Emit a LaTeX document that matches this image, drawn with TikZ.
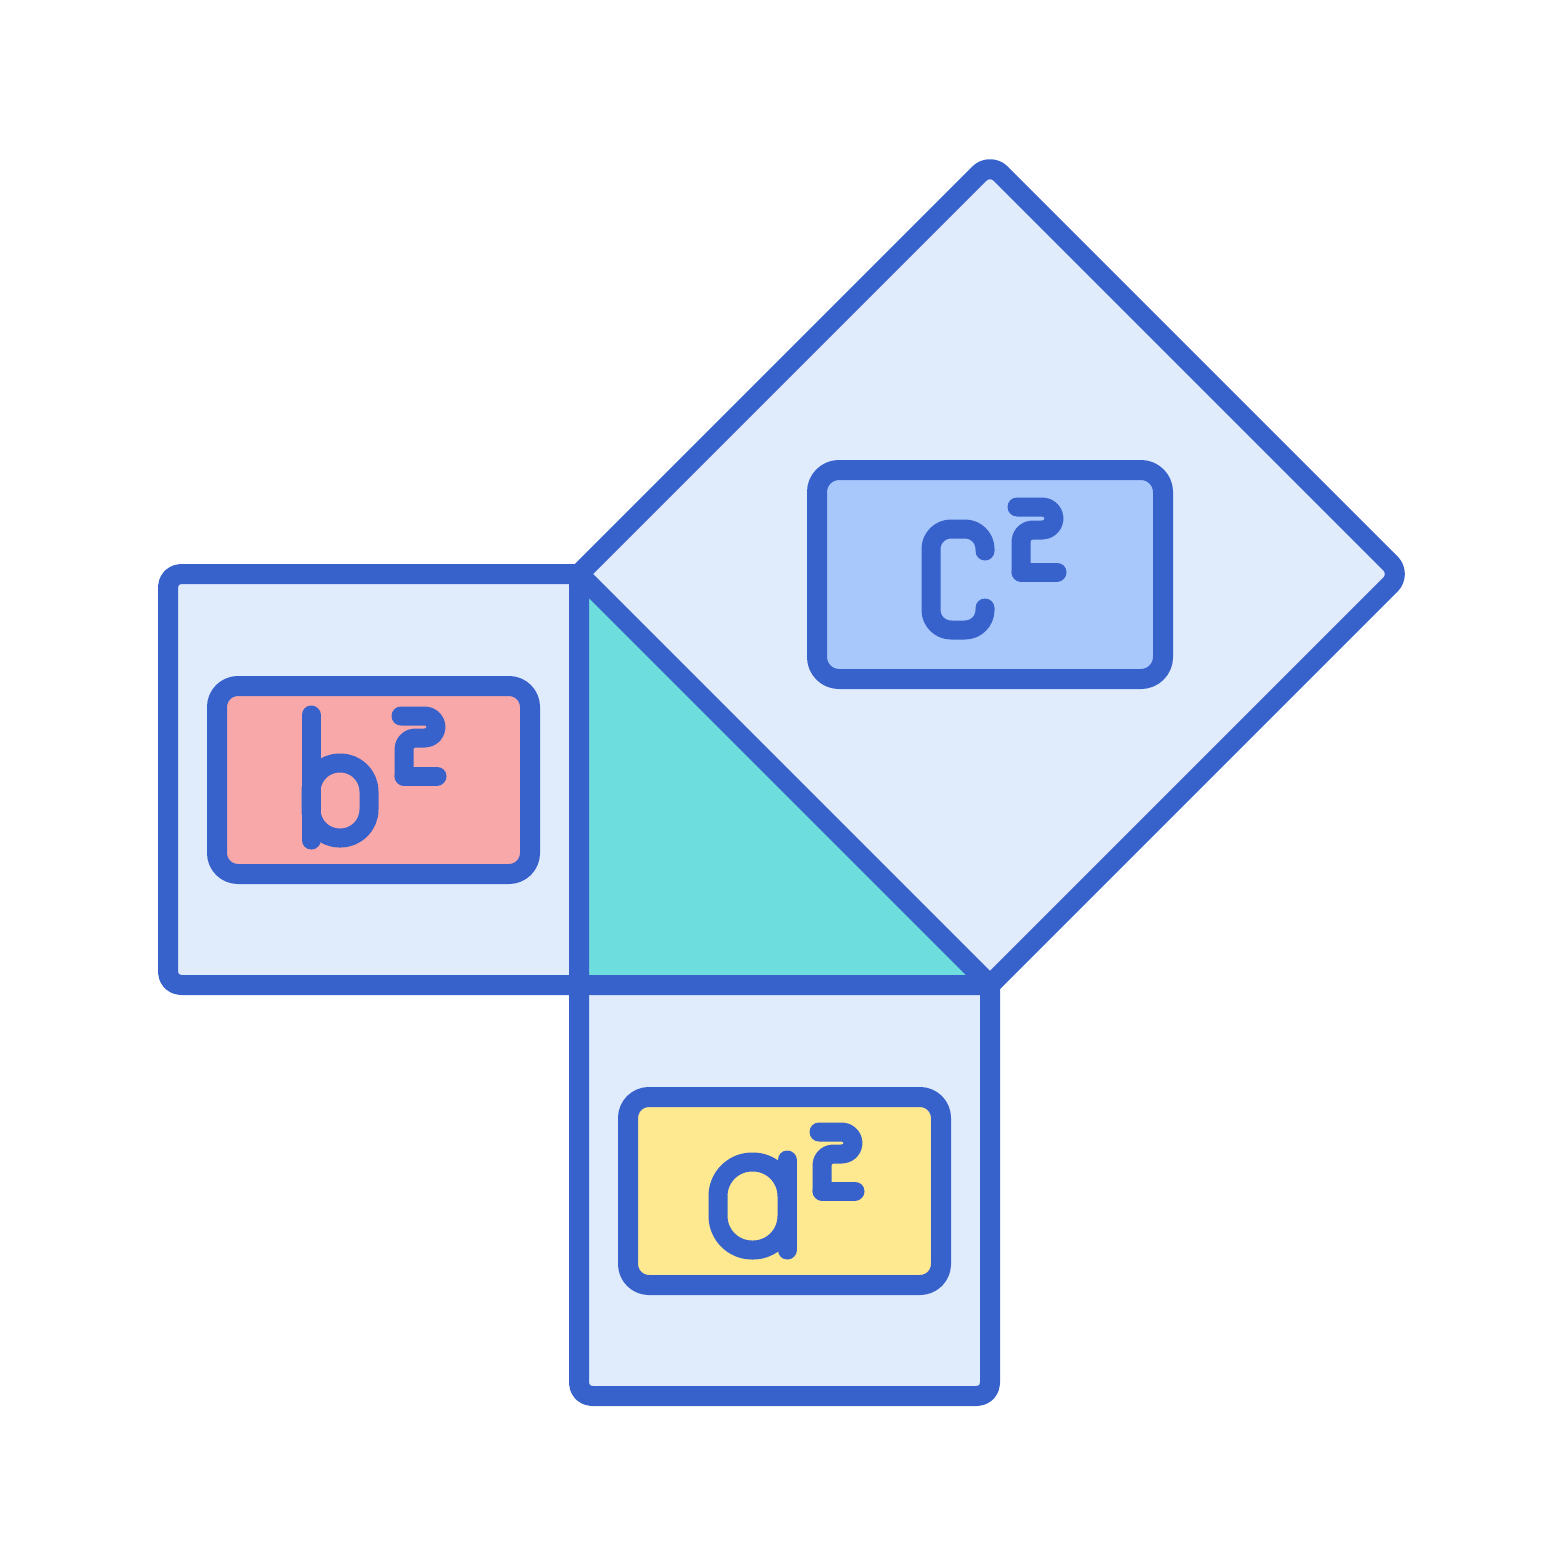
\documentclass[tikz,border=0pt]{standalone}
\begin{document}
\begin{tikzpicture}[x=1pt,y=-1pt,
  line width=20pt, line cap=round, line join=round,
  ln/.style={draw=bl},
  glyph/.style={draw=bl, line width=19pt}]
\definecolor{bl}{HTML}{3762CC}
\definecolor{lb}{HTML}{E0EBFB}
\definecolor{cy}{HTML}{6DDEDD}
\definecolor{pk}{HTML}{F8A8A8}
\definecolor{yl}{HTML}{FEE990}
\definecolor{sk}{HTML}{A8C8FC}
\useasboundingbox (0,0) rectangle (1563,1563);
% coordinates of the construction
\coordinate (A) at (579,574);
\coordinate (B) at (579,985);
\coordinate (C) at (990,985);
\coordinate (D) at (990,163);
\coordinate (E) at (1401,574);
\coordinate (L1) at (168,574);
\coordinate (L2) at (168,985);
\coordinate (M1) at (579,1396);
\coordinate (M2) at (990,1396);
% fills
\fill[lb, rounded corners=13pt] (L1) rectangle (B);
\fill[lb, rounded corners=13pt] (B) rectangle (M2);
\fill[lb, rounded corners=15pt] (A) -- (D) -- (E) -- (C) -- cycle;
\fill[cy] (A) -- (B) -- (C) -- cycle;
% strokes
\draw[ln, rounded corners=13pt] (A) -- (L1) -- (L2) -- (B);
\draw[ln, rounded corners=13pt] (B) -- (M1) -- (M2) -- (C);
\draw[ln, rounded corners=15pt] (A) -- (D) -- (E) -- (C);
\draw[ln] (A) -- (B) -- (C) -- cycle;
% inner boxes
\node[draw=bl, fill=sk, rounded corners=22pt, minimum width=346pt, minimum height=209pt, inner sep=0pt] (cbox) at (990,574.5) {};
\node[draw=bl, fill=pk, rounded corners=21pt, minimum width=313pt, minimum height=188pt, inner sep=0pt] (bbox) at (373.5,780) {};
\node[draw=bl, fill=yl, rounded corners=21pt, minimum width=313pt, minimum height=188pt, inner sep=0pt] (abox) at (784.5,1191) {};
% glyph c^2
\draw[glyph, rounded corners=20pt] (985,551) -- (985,529) -- (931,529) -- (931,630) -- (985,630) -- (985,608);
\draw[glyph, rounded corners=11.5pt] (1017,507) -- (1054,507) -- (1054,530) -- (1021,530) -- (1021,572);
\draw[glyph] (1021,572) -- (1057,572);
% glyph b^2
\draw[glyph] (311,715) -- (311,840);
\draw[glyph, rounded corners=28.5pt] (311,763) rectangle (369,838);
\draw[glyph, rounded corners=11pt] (401,716) -- (436,716) -- (436,738) -- (404,738) -- (404,776);
\draw[glyph] (404,776) -- (437,776);
% glyph a^2
\draw[glyph, rounded corners=34pt] (718,1162) rectangle (787,1250);
\draw[glyph] (787,1160) -- (787,1250);
\draw[glyph, rounded corners=11pt] (819,1132) -- (853,1132) -- (853,1154) -- (822,1154) -- (822,1191);
\draw[glyph] (822,1191) -- (855,1191);
\end{tikzpicture}
\end{document}
